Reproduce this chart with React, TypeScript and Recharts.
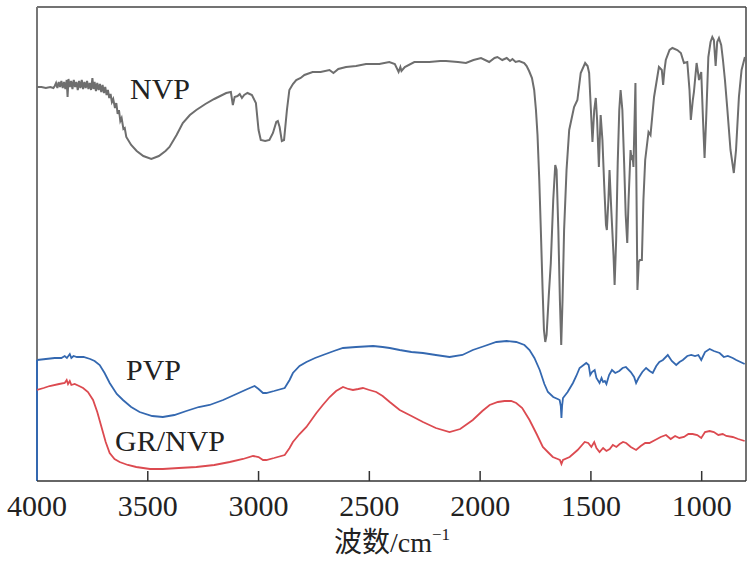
import { LineChart, Line, XAxis, YAxis, ReferenceLine } from 'recharts';

// FTIR spectra, [wavenumber (cm-1), relative transmittance]
const NVP: [number, number][] = [
  [4000, 394], [3980, 394], [3960, 393], [3940, 394], [3926, 393],
  [3920, 395], [3914, 398], [3908, 393], [3902, 399], [3896, 394], [3890, 400], [3884, 393],
  [3878, 399], [3872, 392], [3866, 401], [3862, 384], [3858, 402], [3852, 394], [3846, 400],
  [3840, 392], [3834, 401], [3828, 394], [3822, 399], [3816, 391], [3810, 400], [3804, 393],
  [3798, 401], [3792, 392], [3786, 399], [3780, 393], [3774, 400], [3768, 392], [3762, 398],
  [3756, 391], [3750, 403], [3745, 392], [3740, 399], [3734, 390], [3728, 398], [3722, 391],
  [3716, 397], [3710, 389], [3704, 396], [3698, 388], [3692, 394], [3686, 386], [3680, 391],
  [3674, 383], [3668, 387], [3662, 379], [3656, 382], [3648, 373], [3642, 378], [3636, 367],
  [3630, 371], [3624, 360], [3618, 363], [3610, 352], [3604, 353], [3597, 344],
  [3575, 336], [3550, 330], [3520, 325], [3484, 322], [3450, 325], [3420, 330], [3402, 334],
  [3370, 346], [3342, 358], [3310, 366], [3281, 371], [3240, 377], [3200, 382], [3146, 388],
  [3125, 389], [3116, 376], [3108, 384], [3095, 385], [3085, 387], [3075, 383], [3065, 386],
  [3050, 388], [3030, 386], [3012, 378], [3000, 351], [2990, 341], [2970, 340], [2951, 341],
  [2935, 348], [2920, 359], [2913, 360], [2905, 354], [2895, 340], [2885, 341], [2872, 371],
  [2861, 391], [2845, 397], [2830, 401], [2810, 403], [2793, 406], [2756, 409], [2720, 409],
  [2680, 411], [2662, 408], [2640, 412], [2605, 414], [2560, 415], [2515, 417], [2455, 417],
  [2410, 419], [2385, 417], [2368, 409], [2360, 414], [2355, 410], [2340, 414], [2297, 419],
  [2230, 419], [2180, 420], [2154, 420], [2100, 419], [2064, 418], [2030, 421], [1996, 423],
  [1959, 419], [1935, 423], [1922, 424], [1900, 421], [1880, 423], [1865, 420], [1854, 422],
  [1840, 419], [1824, 420], [1801, 418], [1790, 415], [1779, 410], [1766, 403], [1756, 391],
  [1748, 371], [1741, 346], [1733, 301], [1726, 251], [1718, 191], [1712, 151], [1706, 139],
  [1700, 146], [1690, 186], [1681, 218], [1670, 281], [1661, 316], [1655, 311], [1647, 251],
  [1640, 181], [1634, 136], [1628, 181], [1621, 251], [1610, 311], [1598, 351], [1576, 374],
  [1561, 381], [1546, 408], [1526, 418], [1515, 415], [1508, 408], [1500, 371], [1493, 339],
  [1485, 371], [1478, 383], [1472, 361], [1464, 314], [1460, 341], [1456, 366], [1448, 341],
  [1440, 296], [1432, 256], [1428, 251], [1421, 281], [1416, 311], [1408, 271], [1398, 226],
  [1393, 196], [1386, 241], [1379, 318], [1372, 371], [1366, 391], [1358, 371], [1350, 318],
  [1343, 266], [1336, 238], [1330, 281], [1321, 331], [1316, 321], [1312, 326], [1308, 314],
  [1299, 398], [1290, 191], [1284, 219], [1279, 221], [1270, 221], [1263, 281], [1255, 321],
  [1240, 349], [1231, 346], [1215, 384], [1193, 414], [1180, 411], [1174, 396], [1168, 411],
  [1162, 421], [1145, 431], [1132, 433], [1110, 431], [1094, 428], [1080, 418], [1065, 419],
  [1055, 391], [1049, 361], [1040, 381], [1035, 389], [1023, 418], [1015, 406], [1012, 401],
  [1002, 409], [994, 361], [987, 323], [980, 361], [970, 424], [960, 439], [952, 444],
  [945, 441], [937, 415], [930, 439], [922, 443], [912, 436], [904, 421], [895, 401],
  [885, 374], [870, 331], [855, 308], [845, 331], [832, 384], [820, 411], [805, 424],
];

const PVP: [number, number][] = [
  [4000, 121], [3960, 122], [3920, 123], [3890, 123], [3875, 125], [3865, 123], [3852, 127],
  [3845, 123], [3835, 125], [3820, 124], [3790, 124], [3760, 122], [3740, 120], [3717, 116],
  [3695, 108], [3672, 98], [3640, 87], [3612, 81], [3575, 74], [3537, 69], [3480, 65],
  [3432, 64], [3380, 66], [3326, 70], [3270, 74], [3221, 76], [3160, 81], [3100, 87],
  [3050, 92], [3018, 95], [3000, 92], [2980, 88], [2965, 88], [2930, 90], [2882, 93],
  [2860, 101], [2845, 108], [2815, 115], [2784, 119], [2745, 123], [2709, 126], [2660, 130],
  [2619, 133], [2560, 134], [2483, 135], [2440, 134], [2408, 133], [2363, 131], [2310, 129],
  [2258, 128], [2200, 126], [2138, 124], [2080, 126], [2033, 131], [1980, 135], [1927, 139],
  [1880, 140], [1837, 139], [1800, 136], [1777, 131], [1755, 123], [1731, 111], [1710, 97],
  [1694, 89], [1670, 84], [1650, 82], [1641, 81], [1636, 75], [1633, 63], [1630, 75],
  [1626, 83], [1605, 89], [1581, 98], [1566, 105], [1551, 113], [1521, 118], [1510, 116],
  [1503, 106], [1495, 109], [1483, 111], [1475, 103], [1461, 98], [1452, 103], [1445, 99],
  [1437, 100], [1430, 97], [1418, 106], [1405, 111], [1390, 108], [1372, 110], [1357, 113],
  [1342, 114], [1320, 109], [1305, 104], [1296, 98], [1285, 103], [1268, 109], [1251, 113],
  [1235, 110], [1221, 108], [1205, 115], [1191, 119], [1175, 121], [1153, 126], [1135, 120],
  [1115, 116], [1100, 119], [1085, 121], [1065, 125], [1047, 126], [1030, 125], [1015, 126],
  [1002, 121], [985, 129], [964, 132], [945, 130], [919, 128], [900, 124], [882, 125],
  [860, 123], [844, 121], [825, 119], [806, 117],
];

const GR_NVP: [number, number][] = [
  [4000, 91], [3970, 93], [3943, 95], [3900, 97], [3875, 98], [3866, 101], [3860, 97],
  [3852, 100], [3845, 96], [3830, 97], [3810, 95], [3792, 93], [3770, 89], [3747, 81],
  [3728, 69], [3709, 54], [3690, 39], [3672, 28], [3650, 22], [3627, 19], [3590, 16],
  [3552, 14], [3490, 12], [3432, 12], [3360, 13], [3281, 14], [3200, 16], [3130, 19],
  [3070, 22], [3025, 25], [3000, 24], [2980, 21], [2965, 21], [2930, 23], [2882, 26],
  [2860, 33], [2845, 39], [2815, 47], [2784, 54], [2739, 68], [2710, 76], [2679, 84],
  [2650, 90], [2619, 94], [2595, 92], [2574, 91], [2550, 92], [2529, 93], [2500, 91],
  [2469, 89], [2440, 85], [2408, 79], [2363, 71], [2310, 65], [2258, 59], [2200, 53],
  [2138, 49], [2090, 52], [2033, 61], [1990, 70], [1957, 76], [1920, 79], [1890, 80],
  [1860, 80], [1837, 78], [1810, 73], [1777, 61], [1745, 47], [1717, 34], [1690, 28],
  [1672, 24], [1650, 22], [1640, 21], [1633, 17], [1626, 21], [1596, 24], [1560, 31],
  [1528, 39], [1512, 38], [1498, 34], [1485, 39], [1475, 33], [1461, 29], [1445, 33],
  [1430, 30], [1415, 32], [1401, 36], [1385, 34], [1370, 37], [1355, 39], [1341, 38],
  [1320, 34], [1296, 31], [1275, 35], [1255, 38], [1236, 38], [1210, 41], [1185, 44],
  [1161, 46], [1140, 42], [1120, 45], [1101, 43], [1080, 44], [1060, 47], [1041, 47],
  [1020, 46], [1002, 43], [985, 49], [964, 50], [945, 49], [925, 46], [905, 47],
  [889, 45], [860, 44], [835, 42], [806, 40],
];

const X_TICKS = [4000, 3500, 3000, 2500, 2000, 1500, 1000];

const toRows = (pts: [number, number][]) => pts.map(([w, t]) => ({ w, t }));

const SERIF = '"Liberation Serif", "Times New Roman", serif';
const serifStyle = { fontFamily: SERIF };
const TICK_LEN = 10; // inward tick length, in y units (1 unit = 1px here)

export default function App() {
  return (
    <div style={{ position: 'absolute', left: 0, top: 0, background: '#fff' }}>
      <LineChart width={755} height={562} margin={{ top: 7, right: 9, left: 37, bottom: 31 }}>
        <XAxis
          dataKey="w"
          type="number"
          domain={[800, 4000]}
          reversed
          ticks={X_TICKS}
          height={50}
          tickLine={false}
          tickSize={0}
          tickMargin={14}
          tick={{ fontSize: 30, fontFamily: 'Liberation Serif', fill: '#222' }}
          axisLine={{ stroke: '#333', strokeWidth: 1.5 }}
          allowDataOverflow
        />
        <YAxis hide type="number" domain={[0, 474]} />
        {X_TICKS.slice(1).map((v) => (
          <ReferenceLine key={v} segment={[{ x: v, y: 0 }, { x: v, y: TICK_LEN }]} stroke="#333" strokeWidth={1.5} />
        ))}
        <ReferenceLine y={474} stroke="#444" strokeWidth={1.5} />
        <ReferenceLine x={800} stroke="#444" strokeWidth={1.5} />
        <ReferenceLine segment={[{ x: 4000, y: 474 }, { x: 4000, y: 121 }]} stroke="#777" strokeWidth={2} />
        <ReferenceLine segment={[{ x: 4000, y: 121 }, { x: 4000, y: 0 }]} stroke="#3468b0" strokeWidth={2} />
        <Line data={toRows(NVP)} dataKey="t" type="linear" stroke="#6e6e6e" strokeWidth={2} dot={false} isAnimationActive={false} />
        <Line data={toRows(PVP)} dataKey="t" type="linear" stroke="#3468b0" strokeWidth={1.8} dot={false} isAnimationActive={false} />
        <Line data={toRows(GR_NVP)} dataKey="t" type="linear" stroke="#dc4a50" strokeWidth={1.8} dot={false} isAnimationActive={false} />
        <text x={130} y={99} fontSize={30} style={serifStyle} fill="#222">NVP</text>
        <text x={126} y={380} fontSize={30} style={serifStyle} fill="#222">PVP</text>
        <text x={115} y={451} fontSize={30} style={serifStyle} fill="#222">GR/NVP</text>
        <text x={392} y={552} textAnchor="middle" fontSize={28} style={{ fontFamily: '"Liberation Serif", "Noto Sans CJK SC", serif' }} fill="#222">
          波数/cm<tspan fontSize={17} dy={-12}>−1</tspan>
        </text>
      </LineChart>
    </div>
  );
}
